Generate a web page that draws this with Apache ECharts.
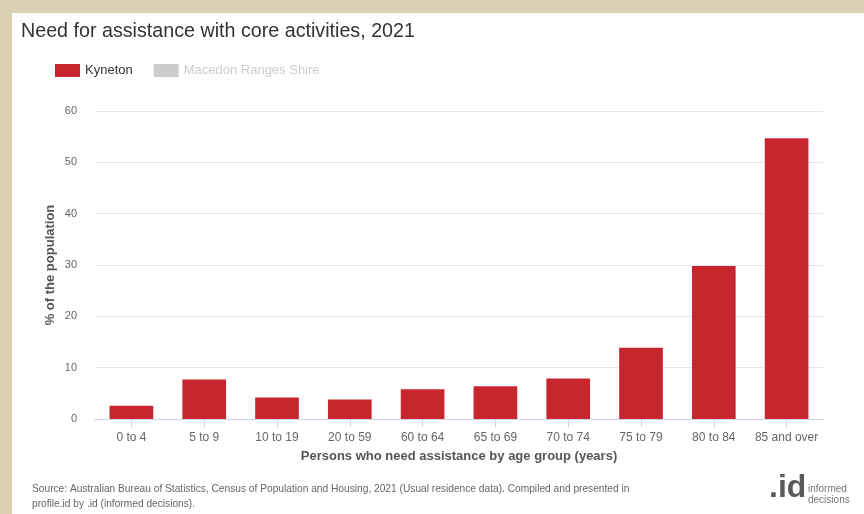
<!DOCTYPE html>
<html>
<head>
<meta charset="utf-8">
<script src="https://cdn.jsdelivr.net/npm/echarts@6/dist/echarts.min.js"></script>
<style>
html,body{margin:0;padding:0;background:#dcd0b4;}
#c{width:864px;height:514px;}
</style>
</head>
<body>
<div id="c"></div>
<script>
var categories = ['0 to 4','5 to 9','10 to 19','20 to 59','60 to 64','65 to 69','70 to 74','75 to 79','80 to 84','85 and over'];
var kyneton = [2.6, 7.7, 4.2, 3.8, 5.8, 6.4, 7.9, 13.9, 29.8, 54.7];
var macedon = [];
var yTicks = [0, 10, 20, 30, 40, 50, 60];
var titleText = 'Need for assistance with core activities, 2021';
var sourceText = 'Source: Australian Bureau of Statistics, Census of Population and Housing, 2021 (Usual residence data). Compiled and presented in\nprofile.id by .id (informed decisions).';

var chart = echarts.init(document.getElementById('c'), null, {renderer:'canvas'});
var font = 'Liberation Sans, Arial, sans-serif';
chart.setOption({
  backgroundColor: '#dcd0b4',
  animation: false,
  textStyle: {fontFamily: font},
  graphic: [
    {type:'rect', z:-10, shape:{x:12, y:13, width:852, height:501}, style:{fill:'#ffffff'}},
    {type:'text', left:21, top:22, style:{text:titleText, font:'19.7px ' + font, fill:'#333333'}},
    {type:'text', left:32, top:482, style:{text:sourceText, font:'10.2px ' + font, fill:'#666666', lineHeight:15}},
    {type:'text', left:769, top:472, style:{text:'.id', font:'bold 32px ' + font, fill:'#5a5a5a'}},
    {type:'text', left:808, top:484, style:{text:'informed\ndecisions', font:'10px ' + font, fill:'#777777', lineHeight:11}}
  ],
  legend: {
    left: 55, top: 64, padding: 0, itemWidth: 25, itemHeight: 13, itemGap: 21,
    icon: 'rect',
    itemStyle: {borderWidth: 0},
    textStyle: {fontSize: 13, color: '#333333'},
    inactiveColor: '#cccccc',
    data: ['Kyneton', 'Macedon Ranges Shire'],
    selected: {'Kyneton': true, 'Macedon Ranges Shire': false}
  },
  grid: {left: 95, right: 41, top: 111, bottom: 95},
  xAxis: {
    type: 'category', data: categories,
    name: 'Persons who need assistance by age group (years)',
    nameLocation: 'middle', nameGap: 31,
    nameTextStyle: {fontSize: 13, fontWeight: 'bold', color: '#555555'},
    axisLine: {lineStyle: {color: '#ccd6eb'}},
    axisTick: {show: true, alignWithLabel: true, length: 8, lineStyle: {color: '#ccd6eb'}},
    axisLabel: {interval: 0, fontSize: 12, color: '#666666', margin: 13}
  },
  yAxis: {
    type: 'value', min: 0, max: 60, interval: 10,
    name: '% of the population', nameLocation: 'middle', nameGap: 38,
    nameMoveOverlap: false,
    nameTextStyle: {fontSize: 13, fontWeight: 'bold', color: '#555555'},
    axisLine: {show: false}, axisTick: {show: false},
    axisLabel: {fontSize: 11, color: '#666666', margin: 18,
      formatter: function (v) { return yTicks.indexOf(v) >= 0 ? String(v) : ''; }},
    splitLine: {lineStyle: {color: '#e6e6e6'}}
  },
  series: [
    {name: 'Kyneton', type: 'bar', data: kyneton, barCategoryGap: '40%',
     itemStyle: {color: '#c8262e'}},
    {name: 'Macedon Ranges Shire', type: 'bar', data: macedon,
     itemStyle: {color: '#aaaaaa'}}
  ]
});
</script>
</body>
</html>
